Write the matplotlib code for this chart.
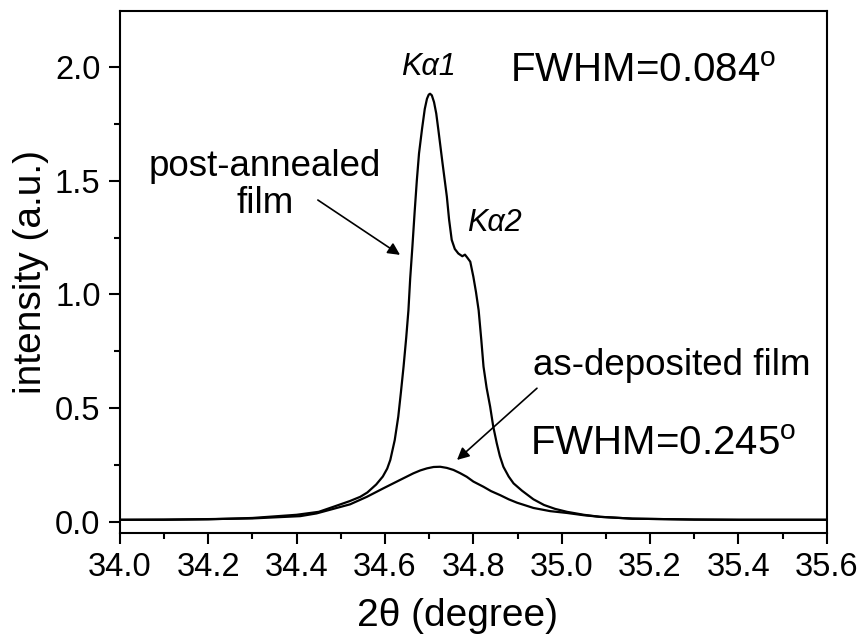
import matplotlib
matplotlib.use('Agg')
import matplotlib.pyplot as plt
from matplotlib.ticker import MultipleLocator, FormatStrFormatter

plt.rcParams['font.family'] = ['Liberation Sans', 'DejaVu Sans']
plt.rcParams['mathtext.fontset'] = 'custom'
plt.rcParams['mathtext.rm'] = 'Liberation Sans'
plt.rcParams['mathtext.it'] = 'Liberation Sans:italic'

# post-annealed film
annealed_x = [34.00, 34.10, 34.20, 34.30, 34.40, 34.45, 34.483, 34.52, 34.544,
              34.56, 34.58, 34.595, 34.605, 34.612, 34.622, 34.630, 34.636,
              34.642, 34.648, 34.653, 34.657, 34.662, 34.667, 34.672, 34.677,
              34.684, 34.690, 34.695, 34.699, 34.702, 34.706, 34.711, 34.716,
              34.721, 34.730, 34.740, 34.745, 34.751, 34.758, 34.766, 34.775,
              34.781, 34.787, 34.793, 34.800, 34.806, 34.812, 34.818, 34.823,
              34.830, 34.838, 34.845, 34.853, 34.860, 34.868, 34.880, 34.891,
              34.910, 34.936, 34.960, 34.985, 35.012, 35.05, 35.087, 35.16,
              35.30, 35.40, 35.60]
annealed_y = [0.010, 0.010, 0.012, 0.018, 0.032, 0.045, 0.067, 0.092, 0.111,
              0.130, 0.165, 0.200, 0.235, 0.273, 0.360, 0.463, 0.570,
              0.683, 0.810, 0.930, 1.070, 1.210, 1.360, 1.500, 1.620,
              1.730, 1.815, 1.860, 1.878, 1.882, 1.875, 1.845, 1.795,
              1.720, 1.580, 1.430, 1.330, 1.240, 1.200, 1.180, 1.168,
              1.175, 1.160, 1.144, 1.078, 1.010, 0.930, 0.800, 0.683,
              0.590, 0.507, 0.420, 0.346, 0.290, 0.243, 0.200, 0.170,
              0.138, 0.100, 0.075, 0.058, 0.045, 0.032, 0.023, 0.015,
              0.011, 0.010, 0.010]

# as-deposited film
deposited_x = [34.00, 34.10, 34.20, 34.30, 34.408, 34.445, 34.483, 34.521,
               34.559, 34.596, 34.634, 34.664, 34.680, 34.695, 34.710, 34.725,
               34.740, 34.755, 34.770, 34.785, 34.800, 34.823, 34.840, 34.861,
               34.880, 34.899, 34.920, 34.936, 34.974, 35.012, 35.05,
               35.087, 35.16, 35.30, 35.40, 35.60]
deposited_y = [0.010, 0.011, 0.013, 0.016, 0.026, 0.038, 0.058, 0.078,
               0.111, 0.148, 0.185, 0.214, 0.227, 0.236, 0.242, 0.243,
               0.238, 0.229, 0.215, 0.199, 0.178, 0.155, 0.136, 0.118,
               0.100, 0.085, 0.072, 0.062, 0.048, 0.040, 0.030,
               0.023, 0.015, 0.011, 0.010, 0.010]

fig = plt.figure(figsize=(8.63, 6.41), dpi=100)
ax = fig.add_axes([0.139, 0.1685, 0.819, 0.8145])

ax.plot(annealed_x, annealed_y, color='k', lw=1.6)
ax.plot(deposited_x, deposited_y, color='k', lw=1.6)

ax.set_xlim(34.0, 35.6)
ax.set_ylim(-0.048, 2.246)
ax.xaxis.set_major_locator(MultipleLocator(0.2))
ax.xaxis.set_minor_locator(MultipleLocator(0.1))
ax.yaxis.set_major_locator(MultipleLocator(0.5))
ax.yaxis.set_minor_locator(MultipleLocator(0.25))
ax.xaxis.set_major_formatter(FormatStrFormatter('%.1f'))
ax.yaxis.set_major_formatter(FormatStrFormatter('%.1f'))

for s in ax.spines.values():
    s.set_linewidth(1.5)
ax.tick_params(which='major', direction='out', length=8, width=1.5, labelsize=23.5)
ax.tick_params(which='minor', direction='out', length=4.5, width=1.5)
ax.tick_params(axis='x', which='major', pad=6)
ax.tick_params(axis='y', which='major', pad=6)

ax.set_xlabel('2θ (degree)', fontsize=28, labelpad=8)
ax.xaxis.set_label_coords(0.477, -0.125)
ax.set_ylabel('intensity (a.u.)', fontsize=28, labelpad=4)

# annotations
ax.text(34.328, 1.481, 'post-annealed\nfilm', fontsize=26.5, ha='center', va='center',
        multialignment='center', linespacing=1.05)
ax.text(34.935, 0.646, 'as-deposited film', fontsize=26.5, ha='left', va='baseline')
ax.text(34.883, 1.934, 'FWHM=0.084$^\\mathrm{o}$', fontsize=29, ha='left', va='baseline')
ax.text(34.929, 0.2945, 'FWHM=0.245$^\\mathrm{o}$', fontsize=29, ha='left', va='baseline')
ax.text(34.698, 2.0, 'Kα1', fontsize=22, style='italic', ha='center', va='center')
ax.text(34.847, 1.314, 'Kα2', fontsize=22, style='italic', ha='center', va='center')

arrow = dict(arrowstyle='-|>', color='k', lw=1.2, shrinkA=0, shrinkB=0, mutation_scale=18)
ax.annotate('', xy=(34.634, 1.174), xytext=(34.448, 1.415), arrowprops=arrow)
ax.annotate('', xy=(34.763, 0.273), xytext=(34.944, 0.588), arrowprops=arrow)

fig.savefig('out.png', dpi=100)
